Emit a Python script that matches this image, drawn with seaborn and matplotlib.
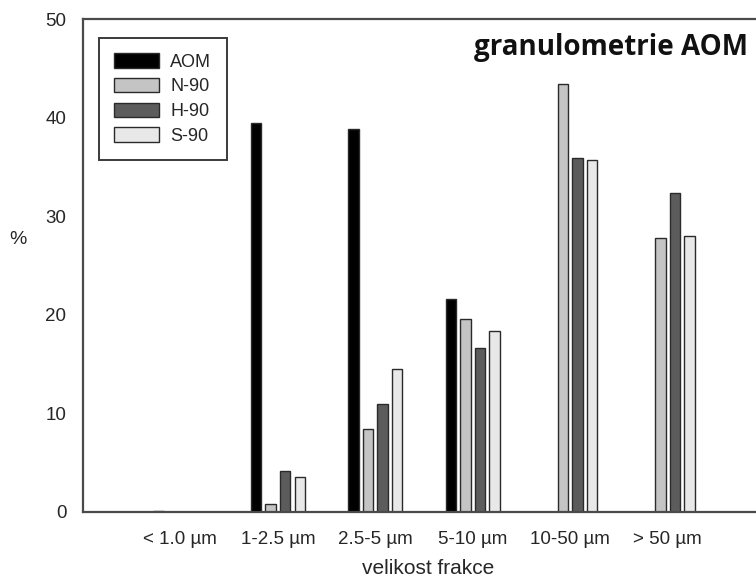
import matplotlib
matplotlib.use("Agg")
import matplotlib.pyplot as plt
from matplotlib.patches import Patch
import seaborn as sns
import pandas as pd

categories = ['< 1.0 µm', '1-2.5 µm', '2.5-5 µm', '5-10 µm', '10-50 µm', '> 50 µm']
series = ['AOM', 'N-90', 'H-90', 'S-90']
aom = [0.1, 39.5, 38.8, 21.6, 0.0, 0.0]
n90 = [0.0, 0.8, 8.4, 19.6, 43.4, 27.8]
h90 = [0.0, 4.2, 11.0, 16.6, 35.9, 32.4]
s90 = [0.0, 3.6, 14.5, 18.4, 35.7, 28.0]
colors = ['#000000', '#c4c4c4', '#5c5c5c', '#e8e8e8']

rows = []
for name, vals in zip(series, [aom, n90, h90, s90]):
    for c, v in zip(categories, vals):
        rows.append({'frakce': c, 'serie': name, 'pct': v})
df = pd.DataFrame(rows)

sns.set_style('white')
plt.rcParams['font.family'] = ['Liberation Sans', 'DejaVu Sans']

W, H = 756, 578
fig = plt.figure(figsize=(W / 100, H / 100), dpi=100)
left, right, top, bottom = 83, 756, 19, 512
ax = fig.add_axes([left / W, (H - bottom) / H, (right - left) / W, (bottom - top) / H])

sns.barplot(data=df, x='frakce', y='pct', hue='serie', order=categories,
            hue_order=series, palette=colors, width=0.6, gap=0.28,
            edgecolor='#2a2a2a', linewidth=1.0, legend=False, ax=ax)

ax.set_xlim(-1, (right - 180) / 97.5)
ax.set_ylim(0, 50)
ax.set_yticks([0, 10, 20, 30, 40, 50])

for s in ['left', 'bottom', 'top']:
    ax.spines[s].set_color('#4a4a4a')
    ax.spines[s].set_linewidth(1.6)
ax.spines['right'].set_visible(False)

ax.tick_params(axis='both', direction='out', length=5, width=1.4, color='#4a4a4a',
               labelsize=13.5, labelcolor='#262626')
ax.tick_params(axis='x', pad=9)
ax.tick_params(axis='y', pad=7)

ax.set_xlabel('velikost frakce', fontsize=15, color='#262626', va='center')
ax.xaxis.set_label_coords((428 - left) / (right - left), -(569 - bottom) / (bottom - top))
ax.set_ylabel('%', fontsize=14, color='#262626', rotation=0, va='center', ha='center')
ax.yaxis.set_label_coords((18 - left) / (right - left), 1 - (240 - top) / (bottom - top))

ax.text((748 - left) / (right - left), 1 - (47 - top) / (bottom - top), 'granulometrie AOM',
        transform=ax.transAxes, ha='right', va='center', fontsize=20,
        fontweight='bold', family=['Open Sans', 'DejaVu Sans'], color='#111111')

handles = [Patch(facecolor=c, edgecolor='#2a2a2a', linewidth=1.0, label=s)
           for c, s in zip(colors, series)]
leg = ax.legend(handles=handles, loc='upper left',
                bbox_to_anchor=((99 - left) / (right - left), 1 - (38 - top) / (bottom - top)),
                borderaxespad=0, fontsize=13, handlelength=2.5, handleheight=0.85,
                handletextpad=0.6, labelspacing=0.4, borderpad=0.85,
                fancybox=False, framealpha=1, edgecolor='#3a3a3a')
leg.get_frame().set_linewidth(1.4)
for t in leg.get_texts():
    t.set_color('#262626')

fig.savefig('out.png', dpi=100)
